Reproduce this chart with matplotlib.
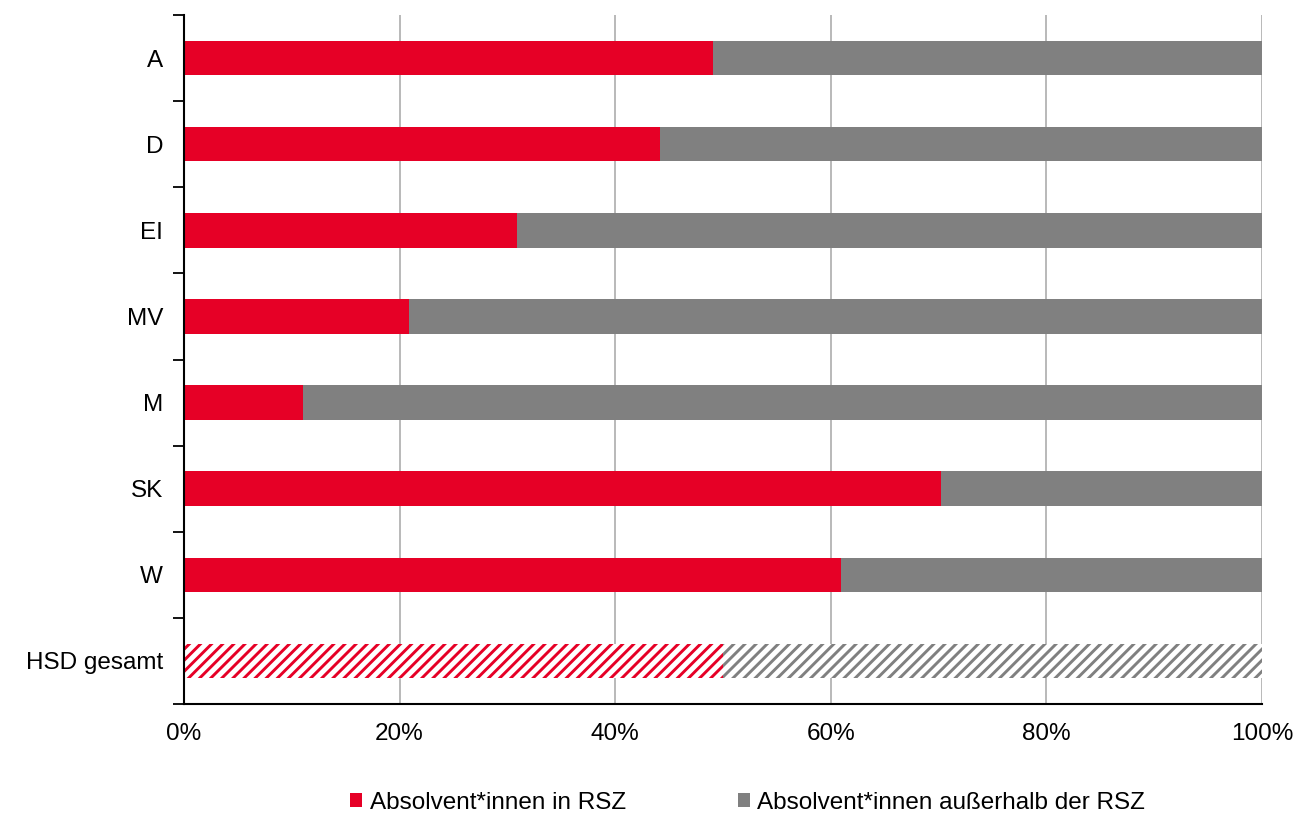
import matplotlib
matplotlib.use("Agg")
import matplotlib.pyplot as plt
from matplotlib.patches import Patch
import numpy as np

categories = ["A", "D", "EI", "MV", "M", "SK", "W", "HSD gesamt"]
in_rsz = [49.1, 44.2, 30.9, 20.9, 11.0, 70.2, 60.9, 50.0]
xticklabels = ["0%", "20%", "40%", "60%", "80%", "100%"]
legend_labels = ["Absolvent*innen in RSZ", "Absolvent*innen außerhalb der RSZ"]

RED = "#E60026"
GREY = "#808080"
FS = 17.5

plt.rcParams['font.family'] = ['Liberation Sans', 'DejaVu Sans']
plt.rcParams['hatch.linewidth'] = 2.1

fig = plt.figure(figsize=(13, 8.16), dpi=100)
ax = fig.add_axes([184/1300, 1 - 704/816, (1262-184)/1300, (704-15)/816])

n = len(categories)
y = np.arange(n)
out_rsz = [100 - v for v in in_rsz]

for i, (cat, a, b) in enumerate(zip(categories, in_rsz, out_rsz)):
    if cat == "HSD gesamt":
        ax.barh(i, a, height=0.4, color="white", edgecolor=RED, hatch="///", linewidth=0, zorder=3)
        ax.barh(i, b, left=a, height=0.4, color="white", edgecolor=GREY, hatch="///", linewidth=0, zorder=3)
    else:
        ax.barh(i, a, height=0.4, color=RED, linewidth=0, zorder=3)
        ax.barh(i, b, left=a, height=0.4, color=GREY, linewidth=0, zorder=3)

ax.set_ylim(n - 0.5, -0.5)
ax.set_xlim(0, 100)
ax.set_yticks(y)
ax.set_yticklabels(categories, fontsize=FS)
ax.set_yticks(np.arange(-0.5, n, 1), minor=True)
ax.tick_params(axis='y', which='major', length=0, pad=15)
ax.tick_params(axis='y', which='minor', length=8, width=1.3, color='black', direction='out')

ax.set_xticks([0, 20, 40, 60, 80, 100])
ax.set_xticklabels(xticklabels, fontsize=FS)
ax.tick_params(axis='x', length=0, pad=14)
ax.xaxis.grid(True, color="#B3B3B3", linewidth=1.3, zorder=0)
ax.set_axisbelow(True)

for s in ["top", "right"]:
    ax.spines[s].set_visible(False)
ax.spines["left"].set_linewidth(1.5)
ax.spines["bottom"].set_linewidth(1.5)
ax.spines["left"].set_zorder(4)

handles = [Patch(facecolor=RED, edgecolor='none'), Patch(facecolor=GREY, edgecolor='none')]
fig.legend(handles, legend_labels, loc="center", bbox_to_anchor=(0.575, 1 - 803/816),
           ncol=2, frameon=False, fontsize=FS, handlelength=0.5, handleheight=0.5,
           handletextpad=0.3, columnspacing=4.6)

fig.savefig("out.png", dpi=100)
